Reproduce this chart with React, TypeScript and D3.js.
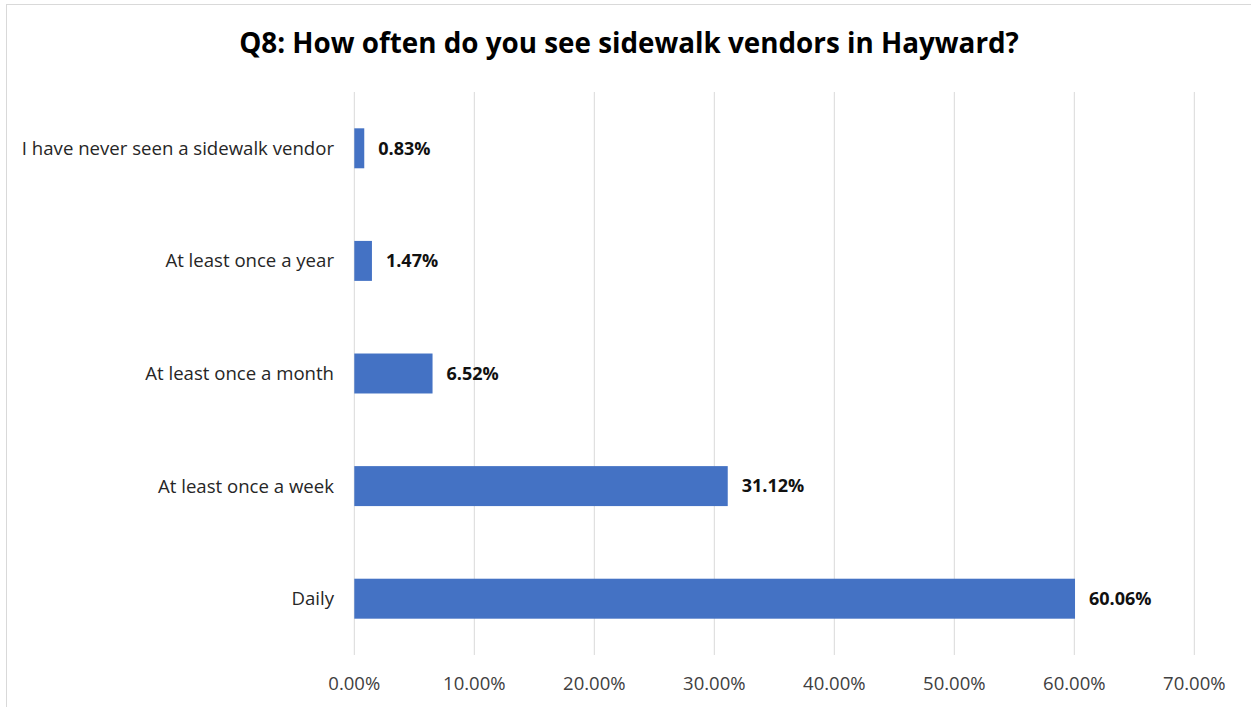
import React from "react";
import * as d3 from "d3";

const categories = [
  "I have never seen a sidewalk vendor",
  "At least once a year",
  "At least once a month",
  "At least once a week",
  "Daily",
];
const values = [0.83, 1.47, 6.52, 31.12, 60.06];
const ticks = [0, 10, 20, 30, 40, 50, 60, 70];
const title = "Q8: How often do you see sidewalk vendors in Hayward?";

const W = 1251;
const H = 707;
const FONT = "'Open Sans', 'Noto Sans', sans-serif";

export default function App() {
  const x = d3.scaleLinear().domain([0, 70]).range([354.3, 1194.3]);
  const y = d3
    .scaleBand<string>()
    .domain(categories)
    .range([92, 655])
    .paddingInner(0.645)
    .paddingOuter(0.3225);

  return (
    <svg
      width={W}
      height={H}
      style={{ position: "absolute", left: 0, top: 0, background: "#fff" }}
    >
      <rect x={0} y={0} width={W} height={H} fill="#fff" />
      <rect x={6.5} y={4.5} width={W + 10} height={H + 10} fill="none" stroke="#d9d9d9" strokeWidth={1} />
      <text
        x={629}
        y={53}
        textAnchor="middle"
        fontFamily={FONT}
        fontWeight="bold"
        fontSize={27.8}
        fill="#000"
      >
        {title}
      </text>
      {ticks.map((t) => (
        <g key={t}>
          <line
            x1={x(t)}
            x2={x(t)}
            y1={92}
            y2={655}
            stroke="#d9d9d9"
            strokeWidth={1}
          />
          <text
            x={x(t)}
            y={690}
            textAnchor="middle"
            fontFamily={FONT}
            fontSize={18.5}
            fill="#404040"
          >
            {t.toFixed(2) + "%"}
          </text>
        </g>
      ))}
      {categories.map((c, i) => {
        const yc = (y(c) as number) + y.bandwidth() / 2;
        return (
          <g key={c}>
            <rect
              x={x(0)}
              y={y(c)}
              width={x(values[i]) - x(0)}
              height={y.bandwidth()}
              fill="#4472C4"
            />
            <text
              x={334}
              y={yc}
              dy="0.35em"
              textAnchor="end"
              fontFamily={FONT}
              fontSize={18.6}
              fill="#262626"
            >
              {c}
            </text>
            <text
              x={x(values[i]) + 14}
              y={yc}
              dy="0.35em"
              fontFamily={FONT}
              fontWeight="bold"
              fontSize={18}
              fill="#111"
            >
              {values[i].toFixed(2) + "%"}
            </text>
          </g>
        );
      })}
    </svg>
  );
}
